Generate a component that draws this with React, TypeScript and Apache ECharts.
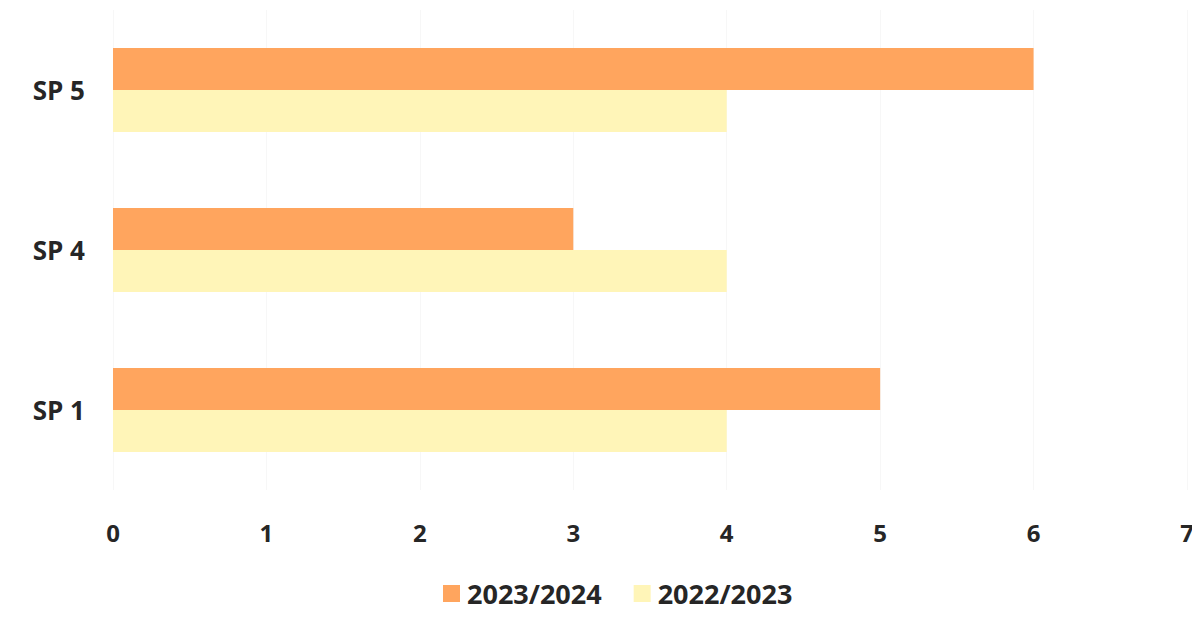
import React, { useEffect, useRef } from "react";
import * as echarts from "echarts";

const categories = ["SP 1", "SP 4", "SP 5"];
const series2324 = [5, 3, 6];
const series2223 = [4, 4, 4];
const seriesNames = ["2023/2024", "2022/2023"];

export default function App() {
  const ref = useRef<HTMLDivElement>(null);
  useEffect(() => {
    const chart = echarts.init(ref.current!, null, { renderer: "svg" });
    const font = { fontFamily: "Open Sans", fontWeight: "bold" as const, color: "#262626" };
    chart.setOption({
      animation: false,
      backgroundColor: "#ffffff",
      grid: { left: 113, right: 13, top: 10, bottom: 137, containLabel: false },
      legend: {
        data: [seriesNames[0], seriesNames[1]],
        top: 575,
        left: 438,
        itemWidth: 17,
        itemHeight: 17,
        itemGap: 32,
        icon: "rect",
        textStyle: { ...font, fontSize: 27, padding: [0, 0, 0, 2] },
      },
      xAxis: {
        type: "value",
        min: 0,
        max: 7,
        interval: 1,
        axisLine: { show: false },
        axisTick: { show: false },
        splitLine: { show: true, lineStyle: { color: "#f7f7f7" } },
        axisLabel: { ...font, fontSize: 24, margin: 30 },
      },
      yAxis: {
        type: "category",
        data: categories,
        axisLine: { show: false },
        axisTick: { show: false },
        axisLabel: { ...font, fontSize: 26, margin: 28 },
      },
      series: [
        {
          name: seriesNames[0],
          type: "bar",
          data: series2324,
          itemStyle: { color: "#FFA55E" },
          barGap: "0%",
          barCategoryGap: "47.5%",
        },
        {
          name: seriesNames[1],
          type: "bar",
          data: series2223,
          itemStyle: { color: "#FFF5B8" },
          barGap: "0%",
          barCategoryGap: "47.5%",
        },
      ],
    });
    return () => chart.dispose();
  }, []);
  return <div ref={ref} style={{ width: 1200, height: 627, margin: -8 }} />;
}
